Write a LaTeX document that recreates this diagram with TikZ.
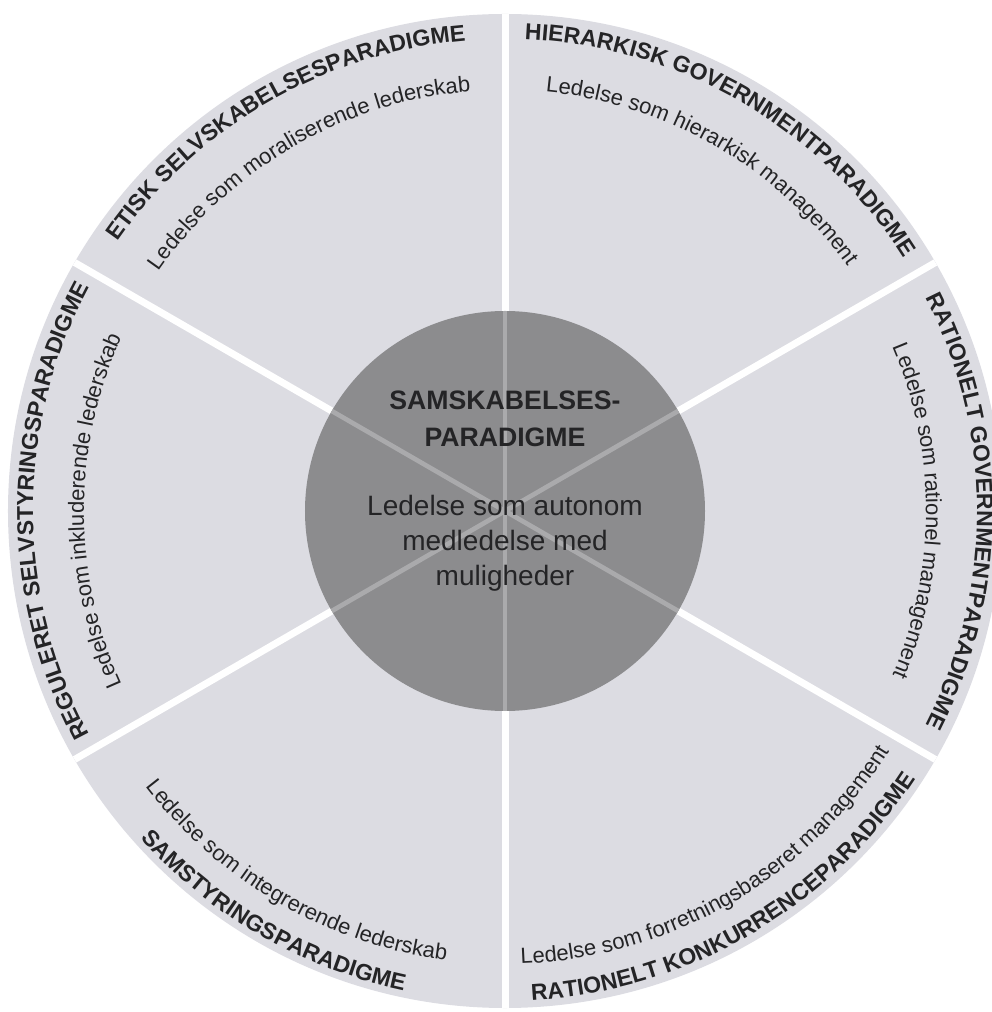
\documentclass[tikz,border=0pt]{standalone}
\usepackage{fontspec}
\setmainfont{Liberation Sans}
\usetikzlibrary{decorations.text}

\definecolor{ringgray}{RGB}{220,220,226}
\definecolor{coregray}{RGB}{140,140,142}
\definecolor{corerule}{RGB}{170,170,172}
\definecolor{ink}{RGB}{36,36,38}

\newcommand{\titlefont}{\fontsize{17.25}{20}\selectfont\bfseries}
\newcommand{\subfont}{\fontsize{16.5}{19}\selectfont}

\tikzset{
  sepline/.style={white, line width=5.25pt},
  coreline/.style={corerule, line width=3.5pt},
  coretitle/.style={font=\fontsize{20}{27.75}\selectfont\bfseries, align=center, text=ink},
  coretext/.style={font=\fontsize{21}{26.25}\selectfont, align=center, text=ink},
}

\begin{document}
\begin{tikzpicture}[x=0.75pt, y=0.75pt]
  \useasboundingbox (-505,-501) rectangle (486,511);

  \coordinate (O) at (0,0);
  \coordinate (E30) at (30:497);
  \coordinate (E90) at (90:497);
  \coordinate (E150) at (150:497);
  \coordinate (E210) at (210:497);
  \coordinate (E270) at (270:497);
  \coordinate (E330) at (330:497);
  \coordinate (C30) at (30:200);
  \coordinate (C90) at (90:200);
  \coordinate (C150) at (150:200);
  \coordinate (C210) at (210:200);
  \coordinate (C270) at (270:200);
  \coordinate (C330) at (330:200);

  % outer ring and the six sector borders
  \fill[ringgray] (O) circle (497);
  \draw[sepline] (O) -- (E30);
  \draw[sepline] (O) -- (E90);
  \draw[sepline] (O) -- (E150);
  \draw[sepline] (O) -- (E210);
  \draw[sepline] (O) -- (E270);
  \draw[sepline] (O) -- (E330);

  % core
  \fill[coregray] (O) circle (200);
  \draw[coreline] (C30) -- (C210);
  \draw[coreline] (C90) -- (C270);
  \draw[coreline] (C150) -- (C330);

  \node[coretitle] (coreT) at (0,92) {SAMSKABELSES-\\PARADIGME};
  \node[coretext] (coreS) at (0,-32) {Ledelse som autonom\\medledelse med\\muligheder};

  % etisk
  \path[decorate, decoration={text along path, text align=center,
      text={|\titlefont\color{ink}|ETISK SELVSKABELSESPARADIGME}}]
    (149:472) arc[start angle=149, end angle=91, radius=472];
  \path[decorate, decoration={text along path, text align=center,
      text={|\subfont\color{ink}|Ledelse som moraliserende lederskab}}]
    (149:421) arc[start angle=149, end angle=91, radius=421];

  % hierarkisk
  \path[decorate, decoration={text along path, text align=center,
      text={|\titlefont\color{ink}|HIERARKISK GOVERNMENTPARADIGME}}]
    (89:472) arc[start angle=89, end angle=31, radius=472];
  \path[decorate, decoration={text along path, text align=center,
      text={|\subfont\color{ink}|Ledelse som hierarkisk management}}]
    (89:421) arc[start angle=89, end angle=31, radius=421];

  % rationelt government
  \path[decorate, decoration={text along path, text align=center,
      text={|\titlefont\color{ink}|RATIONELT GOVERNMENTPARADIGME}}]
    (29:472) arc[start angle=29, end angle=-29, radius=472];
  \path[decorate, decoration={text along path, text align=center,
      text={|\subfont\color{ink}|Ledelse som rationel management}}]
    (29:421) arc[start angle=29, end angle=-29, radius=421];

  % rationelt konkurrence
  \path[decorate, decoration={text along path, text align=center,
      text={|\titlefont\color{ink}|RATIONELT KONKURRENCEPARADIGME}}]
    (271:490) arc[start angle=271, end angle=329, radius=490];
  \path[decorate, decoration={text along path, text align=center,
      text={|\subfont\color{ink}|Ledelse som forretningsbaseret management}}]
    (271:453) arc[start angle=271, end angle=329, radius=453];

  % samstyring
  \path[decorate, decoration={text along path, text align=center,
      text={|\titlefont\color{ink}|SAMSTYRINGSPARADIGME}}]
    (211:490) arc[start angle=211, end angle=269, radius=490];
  \path[decorate, decoration={text along path, text align=center,
      text={|\subfont\color{ink}|Ledelse som integrerende lederskab}}]
    (211:453) arc[start angle=211, end angle=269, radius=453];

  % reguleret selvstyring
  \path[decorate, decoration={text along path, text align=center,
      text={|\titlefont\color{ink}|REGULERET SELVSTYRINGSPARADIGME}}]
    (209:472) arc[start angle=209, end angle=151, radius=472];
  \path[decorate, decoration={text along path, text align=center,
      text={|\subfont\color{ink}|Ledelse som inkluderende lederskab}}]
    (209:421) arc[start angle=209, end angle=151, radius=421];
\end{tikzpicture}
\end{document}
